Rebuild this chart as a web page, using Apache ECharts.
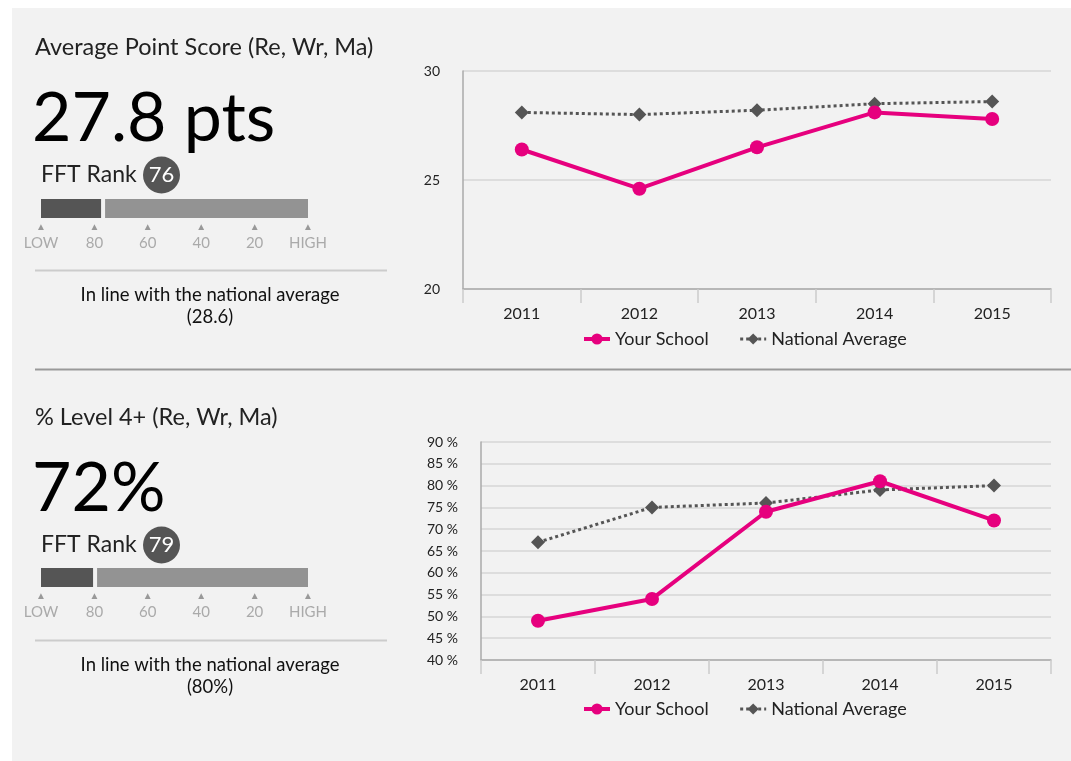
<!DOCTYPE html>
<html>
<head>
<meta charset="utf-8">
<script src="https://cdn.jsdelivr.net/npm/echarts@6/dist/echarts.min.js"></script>
<style>
html, body { margin: 0; padding: 0; background: #fff; }
#chart { width: 1071px; height: 761px; }
</style>
</head>
<body>
<div id="chart"></div>
<script>
// data
var years = ['2011', '2012', '2013', '2014', '2015'];

var apsSchool   = [26.4, 24.6, 26.5, 28.1, 27.8];
var apsNational = [28.1, 28.0, 28.2, 28.5, 28.6];

var lvlSchool   = [49, 54, 74, 81, 72];
var lvlNational = [67, 75, 76, 79, 80];

var rankTicks = ['LOW', '80', '60', '40', '20', 'HIGH'];
var ranks     = [76, 79];
var RANK_GAP  = 1.5;

var FONT = 'Lato, "Noto Sans", sans-serif';
var PINK = '#e6007e';
var DARK = '#555555';
var BG   = '#f2f2f2';

function lineGrid(top, left) {
    return { left: left, right: 20, top: top, height: 218 };
}

function catAxis(gridIndex) {
    return {
        type: 'category',
        gridIndex: gridIndex,
        data: years,
        boundaryGap: true,
        axisLine: { lineStyle: { color: '#aaaaaa', width: 1.5 } },
        axisTick: { show: true, length: 14, lineStyle: { color: '#cccccc', width: 1.5 } },
        axisLabel: { color: '#222', fontSize: 16, fontFamily: FONT, margin: 17 },
        splitLine: { show: false }
    };
}

function valAxis(gridIndex, min, max, fmt) {
    return {
        type: 'value',
        gridIndex: gridIndex,
        min: min,
        max: max,
        interval: 5,
        axisLine: { show: true, lineStyle: { color: '#aaaaaa', width: 1.5 } },
        axisTick: { show: false },
        axisLabel: { color: '#222', fontSize: 14, fontFamily: FONT, margin: 23, formatter: fmt },
        splitLine: { lineStyle: { color: '#d6d6d6', width: 1.5 } }
    };
}

function schoolSeries(idx, data) {
    return {
        name: 'Your School',
        type: 'line',
        xAxisIndex: idx, yAxisIndex: idx,
        data: data,
        symbol: 'circle',
        symbolSize: 14,
        lineStyle: { color: PINK, width: 4 },
        itemStyle: { color: PINK },
        z: 3
    };
}

function nationalSeries(idx, data) {
    return {
        name: 'National Average',
        type: 'line',
        xAxisIndex: idx, yAxisIndex: idx,
        data: data,
        symbol: 'diamond',
        symbolSize: 14,
        lineStyle: { color: DARK, width: 3, type: [3, 3] },
        itemStyle: { color: DARK },
        z: 2
    };
}

// rank bar mini chart: 0 = LOW end, 100 = HIGH end
function rankXAxis(gridIndex) {
    return {
        type: 'value',
        gridIndex: gridIndex,
        min: 0, max: 100, interval: 20,
        axisLine: { show: false },
        axisTick: { show: false },
        splitLine: { show: false },
        axisLabel: {
            showMinLabel: true, showMaxLabel: true,
            margin: 2,
            formatter: function (v) { return '{t|▲}\n{l|' + rankTicks[Math.round(v / 20)] + '}'; },
            rich: {
                t: { fontSize: 10, color: '#999', lineHeight: 13, align: 'center' },
                l: { fontSize: 15, color: '#aaaaaa', fontFamily: FONT, lineHeight: 21, align: 'center' }
            }
        }
    };
}

function rankYAxis(gridIndex) {
    return { type: 'category', gridIndex: gridIndex, data: ['rank'], show: false };
}

function rankSeries(idx, rank) {
    var base = { type: 'bar', stack: 'r' + idx, xAxisIndex: idx, yAxisIndex: idx, barWidth: 19, silent: true };
    return [
        Object.assign({}, base, { name: 'rankLow' + idx, data: [100 - rank - RANK_GAP], itemStyle: { color: '#555555' } }),
        Object.assign({}, base, { name: 'rankGap' + idx, data: [RANK_GAP], itemStyle: { color: 'transparent' } }),
        Object.assign({}, base, { name: 'rankHigh' + idx, data: [rank], itemStyle: { color: '#939393' } })
    ];
}

function panelText(dy, title, big, rank, note1, note2) {
    return [
        { type: 'text', x: 35, y: 47 + dy, style: { text: title, font: '23.5px ' + FONT, fill: '#222', textVerticalAlign: 'middle' } },
        { type: 'text', x: 32, y: 119 + dy, style: { text: big, font: '68px ' + FONT, fill: '#000', textVerticalAlign: 'middle' } },
        { type: 'text', x: 41, y: 175 + dy, style: { text: 'FFT Rank', font: '23px ' + FONT, fill: '#222', textVerticalAlign: 'middle' } },
        { type: 'circle', shape: { cx: 161.5, cy: 175 + dy, r: 18.5 }, style: { fill: DARK } },
        { type: 'text', x: 161.5, y: 175 + dy, z: 10, style: { text: String(rank), font: '22px ' + FONT, fill: '#fff', textAlign: 'center', textVerticalAlign: 'middle' } },
        { type: 'line', shape: { x1: 35, y1: 270.5 + dy, x2: 387, y2: 270.5 + dy }, style: { stroke: '#cccccc', lineWidth: 2 } },
        { type: 'text', x: 210, y: 295 + dy, style: { text: note1, font: '18.5px ' + FONT, fill: '#111', textAlign: 'center', textVerticalAlign: 'middle' } },
        { type: 'text', x: 210, y: 317 + dy, style: { text: note2, font: '18.5px ' + FONT, fill: '#111', textAlign: 'center', textVerticalAlign: 'middle' } }
    ];
}

var graphics = [
    { type: 'rect', shape: { x: 12, y: 8, width: 1059, height: 753 }, style: { fill: BG }, z: -10 },
    { type: 'line', shape: { x1: 35, y1: 369.5, x2: 1071, y2: 369.5 }, style: { stroke: '#999999', lineWidth: 2 } }
].concat(
    panelText(0, 'Average Point Score (Re, Wr, Ma)', '27.8 pts', ranks[0], 'In line with the national average', '(28.6)'),
    panelText(370, '% Level 4+ (Re, Wr, Ma)', '72%', ranks[1], 'In line with the national average', '(80%)')
);

var legendBase = {
    data: ['Your School', 'National Average'],
    itemWidth: 26,
    itemHeight: 14,
    itemGap: 30,
    lineStyle: { width: 'inherit' },
    textStyle: { fontSize: 18, fontFamily: FONT, color: '#222' }
};

var myChart = echarts.init(document.getElementById('chart'));
var option = {
    animation: false,
    textStyle: { fontFamily: FONT },
    graphic: { elements: graphics },
    grid: [
        lineGrid(71, 463),
        lineGrid(442, 481),
        { left: 41, top: 199, width: 267, height: 19 },
        { left: 41, top: 568, width: 267, height: 19 }
    ],
    legend: [
        Object.assign({}, legendBase, { left: 577, top: 325 }),
        Object.assign({}, legendBase, { left: 577, top: 695 })
    ],
    xAxis: [catAxis(0), catAxis(1), rankXAxis(2), rankXAxis(3)],
    yAxis: [
        valAxis(0, 20, 30, '{value}'),
        valAxis(1, 40, 90, '{value} %'),
        rankYAxis(2),
        rankYAxis(3)
    ],
    series: [
        schoolSeries(0, apsSchool),
        nationalSeries(0, apsNational),
        schoolSeries(1, lvlSchool),
        nationalSeries(1, lvlNational)
    ].concat(rankSeries(2, ranks[0]), rankSeries(3, ranks[1]))
};
myChart.setOption(option);
</script>
</body>
</html>
